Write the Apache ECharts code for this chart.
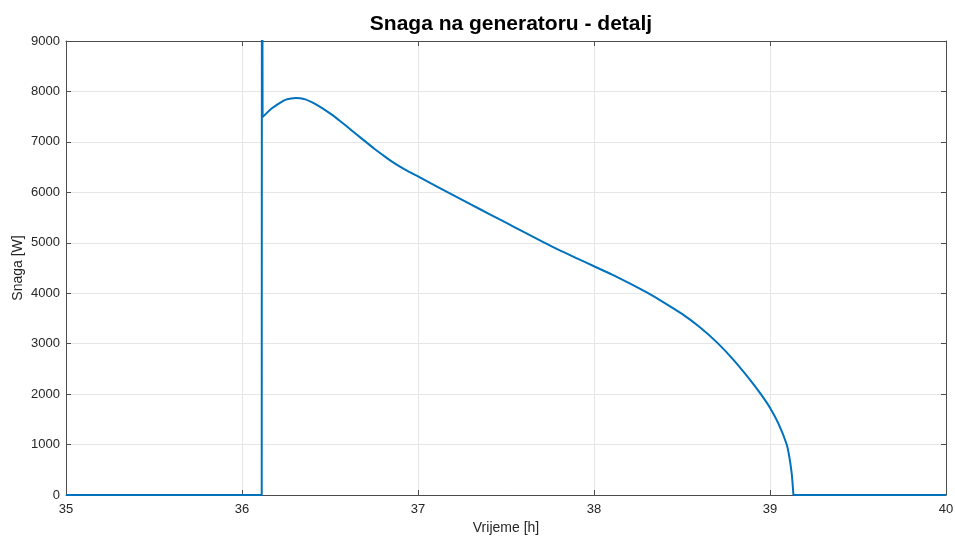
<!DOCTYPE html>
<html>
<head>
<meta charset="utf-8">
<script src="https://cdn.jsdelivr.net/npm/echarts@6/dist/echarts.min.js"></script>
<style>
html,body{margin:0;padding:0;background:#fff;}
#chart{width:955px;height:538px;}
</style>
</head>
<body>
<div id="chart"></div>
<script>
var titleText = 'Snaga na generatoru - detalj';
var xName = 'Vrijeme [h]';
var yName = 'Snaga [W]';
var xTicks = [35, 36, 37, 38, 39, 40];
var yTicks = [0, 1000, 2000, 3000, 4000, 5000, 6000, 7000, 8000, 9000];

var timeH = [35, 36.112, 36.1135, 36.117, 36.14, 36.17, 36.2, 36.225, 36.25, 36.28, 36.305, 36.33, 36.36, 36.39, 36.42, 36.462, 36.51, 36.557, 36.6, 36.65, 36.7, 36.75, 36.8, 36.85, 36.9, 36.95, 37.0, 37.1, 37.17, 37.3, 37.4, 37.5, 37.6, 37.72, 37.8, 37.9, 38.0, 38.1, 38.2, 38.3, 38.4, 38.5, 38.6, 38.7, 38.8, 38.9, 38.95, 39.0, 39.05, 39.095, 39.11, 39.123, 39.13, 39.133, 40];
var powerW = [0, 0, 15000, 7490, 7570, 7665, 7740, 7795, 7838, 7862, 7870, 7866, 7843, 7800, 7745, 7655, 7540, 7415, 7295, 7150, 7010, 6870, 6740, 6615, 6505, 6405, 6315, 6130, 6000, 5760, 5580, 5400, 5215, 5000, 4858, 4696, 4535, 4375, 4200, 4015, 3810, 3590, 3330, 3020, 2650, 2225, 1990, 1730, 1400, 1000, 750, 436, 150, 0, 0];

// index of the dip after the spike and of the return to zero
var curveStart = 3;
var curveEnd = timeH.length - 2;

function pairs(a, b) {
  var out = [];
  for (var i = a; i <= b; i++) out.push([timeH[i], powerW[i]]);
  return out;
}
var stepBefore = pairs(0, curveStart);
var curve = pairs(curveStart, curveEnd);
var stepAfter = pairs(curveEnd, timeH.length - 1);

var axisColor = '#4d4d4d';
var labelColor = '#262626';
var fontFam = '"Liberation Sans", Arial, Helvetica, sans-serif';
var lineCol = '#0072BD';

var chart = echarts.init(document.getElementById('chart'), null, {renderer: 'canvas'});
chart.setOption({
  animation: false,
  backgroundColor: '#ffffff',
  title: {
    text: titleText,
    left: 506,
    textAlign: 'center',
    top: 9,
    textStyle: {fontFamily: fontFam, fontSize: 21, fontWeight: 'bold', color: '#000'}
  },
  grid: {left: 66, right: 9, top: 41, bottom: 43, show: false, containLabel: false, outerBoundsMode: 'none'},
  xAxis: [{
    type: 'value', min: xTicks[0], max: xTicks[xTicks.length - 1], interval: 1,
    name: xName, nameLocation: 'middle', nameGap: 26, nameMoveOverlap: false,
    nameTextStyle: {fontFamily: fontFam, fontSize: 14, color: labelColor},
    axisLine: {show: true, onZero: false, lineStyle: {color: axisColor, width: 1}},
    axisTick: {show: true, inside: true, length: 5, lineStyle: {color: axisColor}},
    axisLabel: {fontFamily: fontFam, fontSize: 13, color: labelColor, margin: 8},
    splitLine: {show: true, lineStyle: {color: '#e6e6e6', width: 1}}
  }, {
    type: 'value', position: 'top', min: xTicks[0], max: xTicks[xTicks.length - 1], interval: 1,
    axisLine: {show: true, onZero: false, lineStyle: {color: axisColor, width: 1}},
    axisTick: {show: true, inside: true, length: 5, lineStyle: {color: axisColor}},
    axisLabel: {show: false}, splitLine: {show: false}
  }],
  yAxis: [{
    type: 'value', min: yTicks[0], max: yTicks[yTicks.length - 1], interval: 1000,
    name: yName, nameLocation: 'middle', nameGap: 41, nameRotate: 90, nameMoveOverlap: false,
    nameTextStyle: {fontFamily: fontFam, fontSize: 14, color: labelColor},
    axisLine: {show: true, onZero: false, lineStyle: {color: axisColor, width: 1}},
    axisTick: {show: true, inside: true, length: 5, lineStyle: {color: axisColor}},
    axisLabel: {fontFamily: fontFam, fontSize: 13, color: labelColor, margin: 6,
      formatter: function (v) { return String(v); }},
    splitLine: {show: true, lineStyle: {color: '#e6e6e6', width: 1}}
  }, {
    type: 'value', position: 'right', min: yTicks[0], max: yTicks[yTicks.length - 1], interval: 1000,
    axisLine: {show: true, onZero: false, lineStyle: {color: axisColor, width: 1}},
    axisTick: {show: true, inside: true, length: 5, lineStyle: {color: axisColor}},
    axisLabel: {show: false}, splitLine: {show: false}
  }],
  series: [{
    type: 'line', data: stepBefore, showSymbol: false, clip: true,
    lineStyle: {color: lineCol, width: 2}, itemStyle: {color: lineCol}, z: 5
  }, {
    type: 'line', data: curve, showSymbol: false, clip: true,
    smooth: 0.25,
    lineStyle: {color: lineCol, width: 2}, itemStyle: {color: lineCol}, z: 5
  }, {
    type: 'line', data: stepAfter, showSymbol: false, clip: true,
    lineStyle: {color: lineCol, width: 2}, itemStyle: {color: lineCol}, z: 5
  }]
});
</script>
</body>
</html>
